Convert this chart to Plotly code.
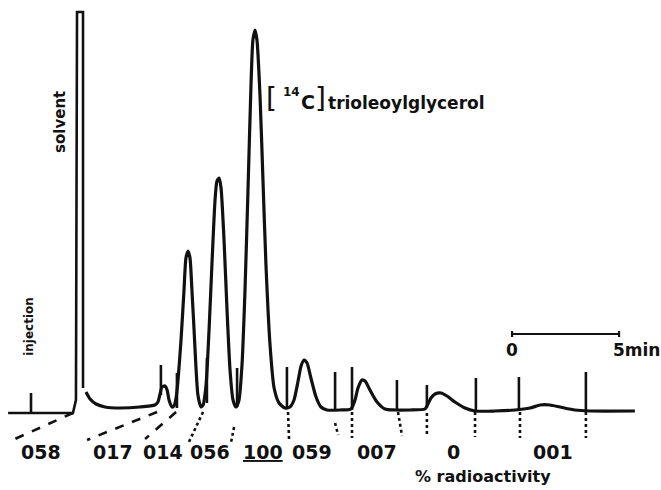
import plotly.graph_objects as go

# ---- data (time in min from injection, detector response in arbitrary units)
solvent_time = [-1.07, 1.96, 2.10, 2.15, 2.43, 2.43]
solvent_resp = [0, 0, 13, 401, 401, 25]

trace_time = [2.57, 2.76, 3.04, 3.46, 4.16, 5.09, 5.79, 5.93, 6.03, 6.12, 6.26, 6.36, 6.45, 6.59, 6.68,
              6.78, 6.87, 7.01, 7.15, 7.24, 7.34, 7.43, 7.52, 7.62, 7.71, 7.80, 7.94, 8.04, 8.18, 8.32,
              8.46, 8.60, 8.69, 8.79, 8.88, 9.02, 9.16, 9.30, 9.44, 9.58, 9.72, 9.86, 10.00, 10.14, 10.28,
              10.37, 10.47, 10.56, 10.70, 10.84, 10.98, 11.17, 11.36, 11.59, 11.87, 12.10, 12.29, 12.48,
              12.62, 12.76, 12.90, 13.08, 13.32, 13.55, 13.83, 14.44, 14.95, 15.14, 15.28, 15.47, 15.61,
              15.84, 16.17, 16.54, 17.01, 17.71, 18.41, 18.55, 18.69, 18.88, 19.16, 19.44, 19.81, 20.28,
              20.75, 21.68, 22.62, 23.32, 23.79, 24.25, 24.72, 25.42, 26.12, 28.22]
trace_resp = [21, 14, 9, 6, 5, 6, 8, 11, 19, 26, 27, 23, 13, 6, 7,
              15, 33, 73, 123, 155, 162, 155, 123, 83, 45, 18, 6, 8, 28, 83,
              151, 213, 232, 235, 225, 173, 103, 43, 13, 6, 13, 48, 123, 223, 328,
              373, 383, 373, 318, 233, 148, 68, 25, 10, 5, 6, 13, 32,
              47, 53, 50, 35, 16, 6, 3, 3, 4, 13, 25, 33, 32,
              23, 11, 4, 3, 3, 4, 9, 15, 19, 20, 17, 11, 5,
              2, 2, 3, 5, 8, 8, 6, 3, 2, 2]

# fraction-cut pen marks
mark_time = [0.0, 6.07, 6.82, 8.22, 9.63, 11.96, 14.21, 15.00, 17.10, 18.50, 20.79, 22.80, 25.93]
mark_top = [20, 48, 40, 55, 45, 46, 41, 46, 33, 28, 35, 36, 41]
mark_bottom = [0, 18, 5, 10, 6, 5, 3, 3, 3, 5, 2, 3, 2]

# fraction labels (% radioactivity)
frac_labels = ["058", "017", "014", "056", "100", "059", "007", "0", "001"]
frac_time = [0.47, 3.83, 6.17, 8.36, 10.84, 13.13, 16.17, 19.72, 24.39]

# connector lines from the trace down to the labels
conn_t0 = [1.96, 5.89, 6.78, 8.04, 9.49, 12.01, 14.21, 15.00, 17.15, 18.50, 20.75, 22.85, 25.93]
conn_r0 = [0, 1, 1, 1, -14, 1, -10, 1, 1, 0, 1, 1, 1]
conn_t1 = [-1.07, 2.62, 5.33, 7.38, 9.35, 12.06, 14.35, 15.00, 17.34, 18.50, 20.75, 22.85, 25.93]
conn_r1 = [-29, -27, -26, -29, -29, -27, -22, -25, -23, -24, -24, -25, -25]
conn_style = ["dash", "dash", "dash"] + ["dot"] * 10

scale_bar = [22.48, 27.48]   # 0 - 5 min
scale_level = 79

INK = "#111111"
FONT = "DejaVu Sans"

fig = go.Figure()

fig.add_trace(go.Scatter(x=solvent_time, y=solvent_resp, mode="lines",
                         line=dict(color=INK, width=2.6), hoverinfo="skip"))
fig.add_trace(go.Scatter(x=trace_time, y=trace_resp, mode="lines",
                         line=dict(color=INK, width=3.2, shape="spline", smoothing=0.6),
                         hoverinfo="skip"))

mx, my = [], []
for t, a, b in zip(mark_time, mark_top, mark_bottom):
    mx += [t, t, None]
    my += [a, b, None]
fig.add_trace(go.Scatter(x=mx, y=my, mode="lines", line=dict(color=INK, width=2.6), hoverinfo="skip"))

for t0, r0, t1, r1, st in zip(conn_t0, conn_r0, conn_t1, conn_r1, conn_style):
    fig.add_trace(go.Scatter(x=[t0, t1], y=[r0, r1], mode="lines",
                             line=dict(color=INK, width=2.6, dash=st), hoverinfo="skip"))

# scale bar
fig.add_trace(go.Scatter(x=scale_bar, y=[scale_level, scale_level], mode="lines",
                         line=dict(color=INK, width=2.2), hoverinfo="skip"))
for t in scale_bar:
    fig.add_trace(go.Scatter(x=[t, t], y=[scale_level - 3, scale_level + 3], mode="lines",
                             line=dict(color=INK, width=2.2), hoverinfo="skip"))


def label(x, y, text, size, weight="bold", angle=0, xanchor="center"):
    fig.add_annotation(x=x, y=y, text=text, showarrow=False, xref="x", yref="y",
                       textangle=angle, xanchor=xanchor,
                       font=dict(family=FONT, size=size, color=INK, weight=weight))


for lab, t in zip(frac_labels, frac_time):
    label(t, -39, "<u>" + lab + "</u>" if lab == "100" else lab, 19)

label(21.12, -63, "% radioactivity", 16)
label(scale_bar[0], scale_level - 16, "0", 17)
label(scale_bar[1] + 0.8, scale_level - 16, "5min", 17)
label(1.35, 291, "solvent", 15, angle=-90)
label(-0.1, 87, "injection", 12, angle=-90)

# [14C]trioleoylglycerol
label(11.26, 315, "[", 28, weight="normal")
label(12.15, 321, "14", 12)
label(12.95, 311, "C", 19)
label(13.55, 315, "]", 28, weight="normal")
label(13.80, 310, "trioleoylglycerol", 17, xanchor="left")

fig.update_layout(
    width=661, height=490,
    margin=dict(l=0, r=0, t=0, b=0),
    paper_bgcolor="white", plot_bgcolor="white",
    showlegend=False,
    xaxis=dict(range=[-1.449, 29.44], visible=False, fixedrange=True),
    yaxis=dict(range=[-77, 413], visible=False, fixedrange=True),
)

fig.write_html("out.html")
